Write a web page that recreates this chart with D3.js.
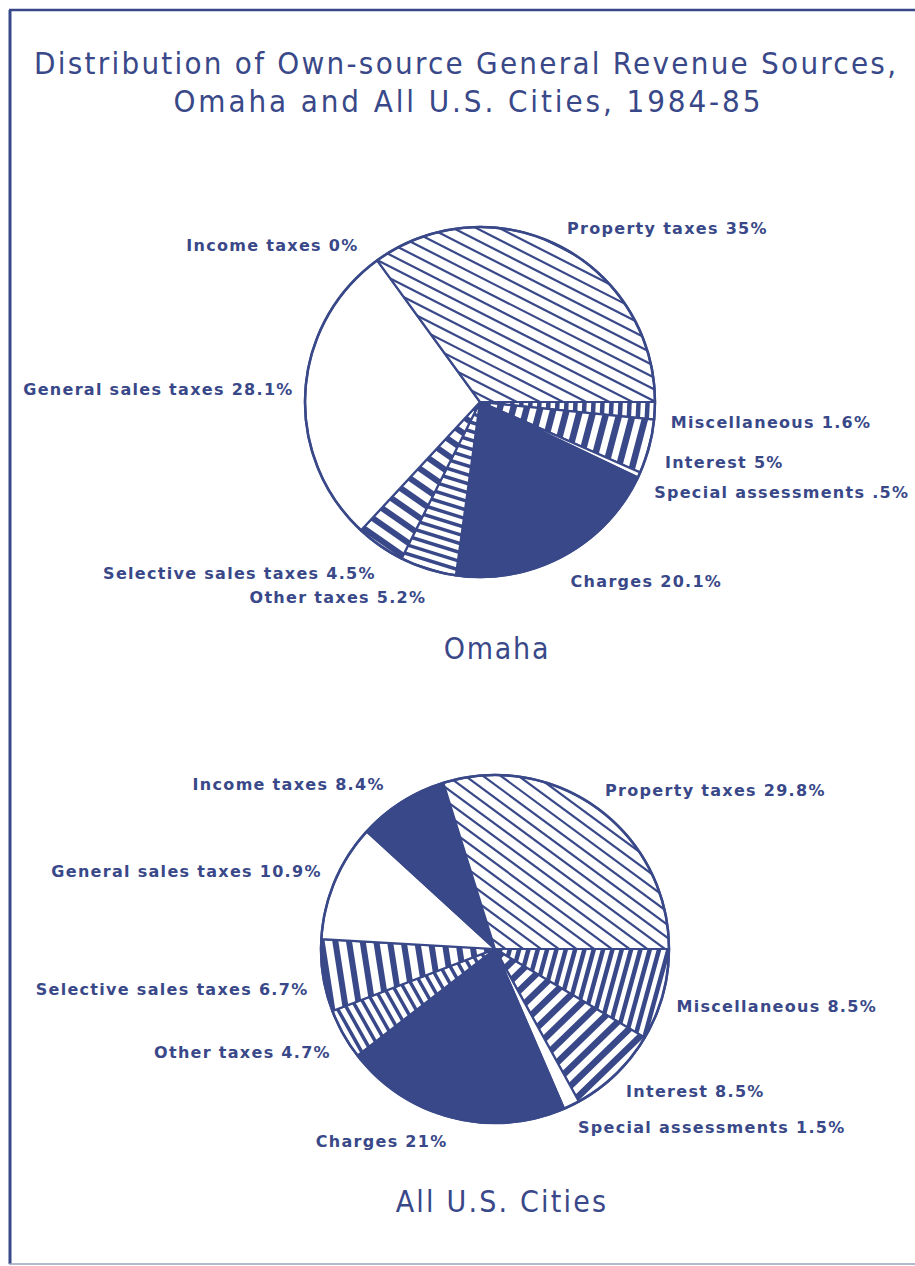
<!doctype html>
<html lang="en">
  <head>
    <meta charset="utf-8">
    <title>Distribution of Own-source General Revenue Sources</title>
    <style>
      body { margin: 0; background: #fff; }
      svg { display: block; }
    </style>
  </head>
  <body>
    <script src="https://cdn.jsdelivr.net/npm/d3@7"></script>
    <script>
      // slice order, clockwise from 3 o'clock
      var categories = ["Miscellaneous", "Interest", "Special assessments", "Charges",
                        "Other taxes", "Selective sales taxes", "General sales taxes",
                        "Income taxes", "Property taxes"];
      var omahaValues = [1.6, 5, 0.5, 20.1, 5.2, 4.5, 28.1, 0, 35];
      var omahaText   = ["1.6%", "5%", ".5%", "20.1%", "5.2%", "4.5%", "28.1%", "0%", "35%"];
      var usValues    = [8.5, 8.5, 1.5, 21, 4.7, 6.7, 10.9, 8.4, 29.8];
      var usText      = ["8.5%", "8.5%", "1.5%", "21%", "4.7%", "6.7%", "10.9%", "8.4%", "29.8%"];

      var ink = "#394888";
      var width = 915, height = 1266;

      // fill style of each category: solid, white, or stripes (period, line width)
      var fills = {
        "Miscellaneous":         {type: "stripe", period: 9,    w: 4.5},
        "Interest":              {type: "stripe", period: 13,   w: 6.5},
        "Special assessments":   {type: "white"},
        "Charges":               {type: "solid"},
        "Other taxes":           {type: "stripe", period: 8.5,  w: 3.5},
        "Selective sales taxes": {type: "stripe", period: 13.5, w: 6},
        "General sales taxes":   {type: "white"},
        "Income taxes":          {type: "solid"},
        "Property taxes":        {type: "stripe", period: 10.5, w: 2.2}
      };

      var svg = d3.select("body").append("svg")
        .attr("width", width)
        .attr("height", height);

      var defs = svg.append("defs");

      // frame
      svg.append("line").attr("x1", 10).attr("y1", 10).attr("x2", 10).attr("y2", 1264)
        .attr("stroke", ink).attr("stroke-width", 3);
      svg.append("line").attr("x1", 9).attr("y1", 10).attr("x2", 915).attr("y2", 10)
        .attr("stroke", ink).attr("stroke-width", 2.5);
      svg.append("line").attr("x1", 9).attr("y1", 1264).attr("x2", 915).attr("y2", 1264)
        .attr("stroke", "#9aa3bf").attr("stroke-width", 1.5);

      // title
      var titleFont = "'DejaVu Sans Condensed', 'DejaVu Sans', sans-serif";
      svg.append("text").attr("x", 465).attr("y", 74)
        .attr("text-anchor", "middle")
        .attr("font-family", titleFont).attr("font-size", 31)
        .attr("fill", ink)
        .attr("textLength", 862).attr("lengthAdjust", "spacing")
        .text("Distribution of Own-source General Revenue Sources,");
      svg.append("text").attr("x", 467).attr("y", 112)
        .attr("text-anchor", "middle")
        .attr("font-family", titleFont).attr("font-size", 31)
        .attr("fill", ink)
        .attr("textLength", 587).attr("lengthAdjust", "spacing")
        .text("Omaha and All U.S. Cities, 1984-85");

      var pie = d3.pie()
        .sort(null)
        .value(function(d){ return d; })
        .startAngle(Math.PI / 2)
        .endAngle(Math.PI / 2 + 2 * Math.PI);

      function drawPie(id, values, texts, cx, cy, r, nudge, caption) {
        var arc = d3.arc().innerRadius(0).outerRadius(r);
        var slices = pie(values);
        var g = svg.append("g").attr("transform", "translate(" + cx + "," + cy + ")");

        slices.forEach(function(s, i) {
          if (s.endAngle - s.startAngle <= 0) return;
          var f = fills[categories[i]];
          var d = arc(s);
          g.append("path").attr("d", d)
            .attr("fill", f.type === "solid" ? ink : "#fff");

          if (f.type === "stripe") {
            var clipId = id + "-clip-" + i;
            defs.append("clipPath").attr("id", clipId)
              .append("path").attr("d", d);
            var mid = (s.startAngle + s.endAngle) / 2 - Math.PI / 2;
            var sg = g.append("g").attr("clip-path", "url(#" + clipId + ")")
              .append("g").attr("transform", "rotate(" + (mid * 180 / Math.PI) + ")");
            sg.selectAll("line")
              .data(d3.range(f.period * 0.6, r + f.period, f.period))
              .enter().append("line")
              .attr("x1", function(x){ return x; })
              .attr("x2", function(x){ return x; })
              .attr("y1", -r).attr("y2", r)
              .attr("stroke", ink)
              .attr("stroke-width", f.w);
          }

          g.append("path").attr("d", d)
            .attr("fill", "none")
            .attr("stroke", ink)
            .attr("stroke-width", 2.2)
            .attr("stroke-linejoin", "round");
        });

        g.append("circle").attr("r", r)
          .attr("fill", "none").attr("stroke", ink).attr("stroke-width", 2.6);

        // labels
        slices.forEach(function(s, i) {
          var a = (s.startAngle + s.endAngle) / 2 - Math.PI / 2;
          var R = r + 10;
          var x = Math.cos(a) * R, y = Math.sin(a) * R;
          var n = nudge[i];
          var right = Math.cos(a) >= 0;
          g.append("text")
            .attr("x", x + n[0] + (right ? 0 : 1.3)).attr("y", y + n[1])
            .attr("text-anchor", right ? "start" : "end")
            .attr("font-family", "'DejaVu Sans', sans-serif")
            .attr("font-weight", "bold")
            .attr("font-size", 16)
            .attr("letter-spacing", 1.3)
            .attr("fill", ink)
            .text(categories[i] + " " + texts[i]);
        });

        svg.append("text")
          .attr("x", caption.x).attr("y", caption.y)
          .attr("text-anchor", "middle")
          .attr("font-family", titleFont)
          .attr("font-size", 30)
          .attr("letter-spacing", caption.spacing)
          .attr("fill", ink)
          .text(caption.text);
      }

      // label offsets (dx, dy) from the point just outside each slice
      var omahaNudge = [[6, 17], [6, 19], [6, 19], [3, 22], [0, 24], [0, 25], [-3, 4], [-14, -1], [3, -3]];
      var usNudge    = [[4, 14], [3, 16], [2, 19], [-3, 20], [-5, 19], [-6, 18], [-5, -1], [-13, -4], [1, -5]];

      drawPie("omaha", omahaValues, omahaText, 480, 402, 175, omahaNudge,
              {x: 497, y: 659, text: "Omaha", spacing: 1.8});
      drawPie("us", usValues, usText, 495, 949, 174, usNudge,
              {x: 502, y: 1212, text: "All U.S. Cities", spacing: 2.2});
    </script>
  </body>
</html>
